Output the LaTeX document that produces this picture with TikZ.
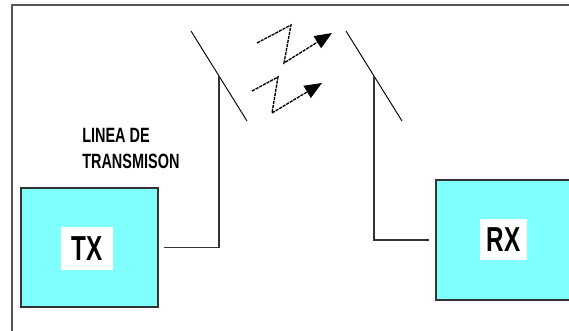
\documentclass[tikz,border=0pt]{standalone}
\usepackage{fontspec}
\usepackage{tikz}
\usetikzlibrary{arrows.meta,calc,positioning}
\newfontfamily\narrowfont[FakeStretch=0.7]{Liberation Sans}
\definecolor{StationCyan}{HTML}{80FFFF}
\definecolor{EdgeGray}{HTML}{333333}
\definecolor{FrameGray}{HTML}{555555}

\begin{document}
\begin{tikzpicture}[x=0.75pt,y=-0.75pt,
    station/.style={draw=EdgeGray,line width=1.1pt,fill=StationCyan,
                    minimum width=102.75pt,inner sep=0pt},
    namebox/.style={fill=white,inner sep=0pt,font=\narrowfont\bfseries\fontsize{26}{28}\selectfont},
    feed/.style={draw=EdgeGray,line width=1.1pt},
    antenna/.style={draw=black,line width=0.7pt},
    wave/.style={draw=black,line width=1pt,dash pattern=on 2.4pt off 0.7pt,
                 -{Triangle[length=13pt,width=10.5pt]}},
    frame/.style={draw=FrameGray,line width=1.5pt}]
    \clip (0,0) rectangle (569,331);
    \fill[white] (0,0) rectangle (569,331);
    \draw[frame] (12,331) |- (569,5);
    \node[station,minimum height=89.25pt] (tx) at (89.5,247.5) {};
    \node[station,minimum height=90pt] (rx) at (504.5,240) {};
    \node[namebox,minimum width=39pt,minimum height=32.25pt] (txname) at (87,248.5) {TX};
    \node[namebox,minimum width=35.25pt,minimum height=30.75pt] (rxname) at (503.5,239.5) {RX};
    \node[anchor=west,align=left,inner sep=0pt,
          font=\narrowfont\bfseries\fontsize{15.5}{20}\selectfont] (linea) at (82,148.5) {LINEA DE\\TRANSMISON};
    % antenas
    \coordinate (txtop) at (191,31);
    \coordinate (txbot) at (247,121);
    \coordinate (rxtop) at (346,31);
    \coordinate (rxbot) at (402,121);
    \coordinate (txant) at ($(txtop)!0.5!(txbot)$);
    \coordinate (rxant) at ($(rxtop)!0.5!(rxbot)$);
    \draw[antenna] (txtop) -- (txbot);
    \draw[antenna] (rxtop) -- (rxbot);
    \draw[feed,shorten <=3.75pt] (tx.east) -| (txant);
    \draw[feed,shorten <=5pt] (rx.west) -| (rxant);
    \draw[wave] (257,43) -- (291,25) -- (284,63) -- (332,33);
    \draw[wave] (252,91) -- (278,77) -- (272,113) -- (322,83);
  \end{tikzpicture}
\end{document}
